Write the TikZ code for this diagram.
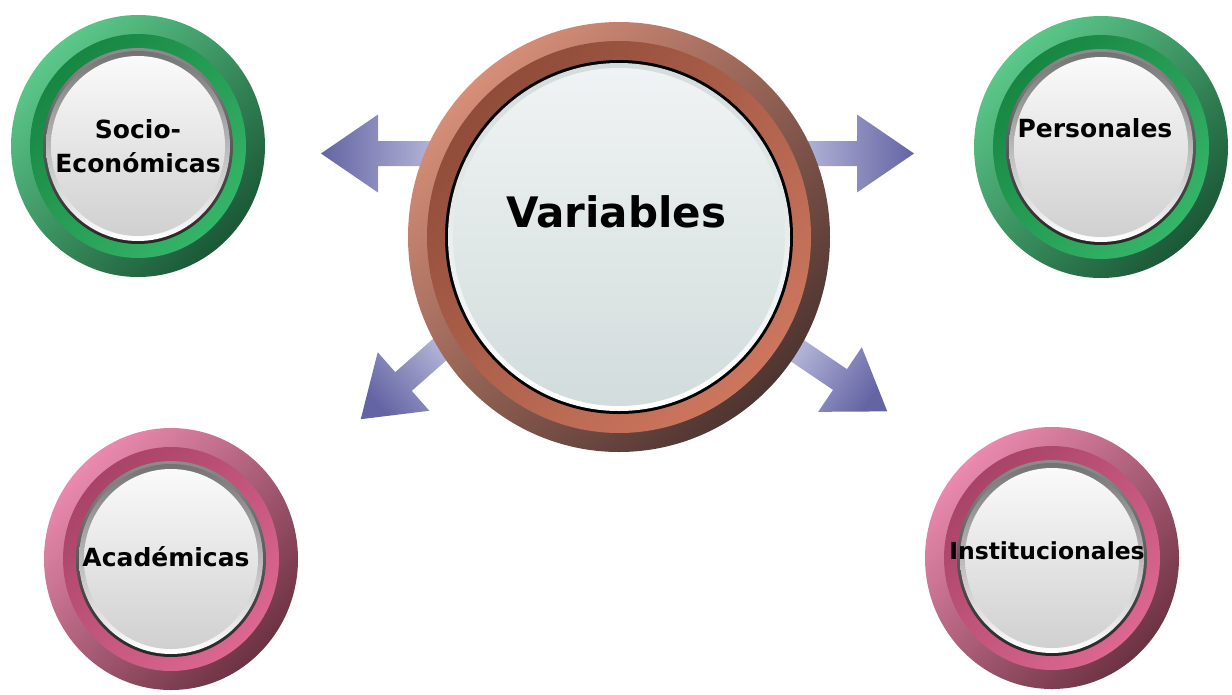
\documentclass[tikz,border=0pt]{standalone}
\usepackage{fontspec}
\setmainfont{DejaVu Sans}
\usetikzlibrary{positioning}
\definecolor{arrowdark}{RGB}{100,100,164}
\definecolor{arrowlight}{RGB}{196,198,226}
\definecolor{brownlight}{RGB}{214,142,120}
\definecolor{brownmain}{RGB}{200,106,80}
\definecolor{browndark}{RGB}{78,52,48}
\definecolor{greenlight}{RGB}{92,200,138}
\definecolor{greenmain}{RGB}{30,172,86}
\definecolor{greendark}{RGB}{26,88,54}
\definecolor{pinklight}{RGB}{234,138,174}
\definecolor{pinkmain}{RGB}{216,86,132}
\definecolor{pinkdark}{RGB}{108,50,66}
\definecolor{disclight}{RGB}{250,250,250}
\definecolor{discdark}{RGB}{208,208,208}
\definecolor{bigdisclight}{RGB}{240,243,243}
\definecolor{bigdiscdark}{RGB}{210,220,220}
\tikzset{arrowbody/.style={bottom color=arrowlight,top color=arrowdark,shading angle=#1}}
\tikzset{disc/.style={top color=disclight,bottom color=discdark}}
\tikzset{bevel/.style={top color=black!55,bottom color=white}}
\tikzset{rim/.style={top color=black!45,bottom color=black!85}}
\tikzset{lbl/.style={font=\bfseries\fontsize{25}{34}\selectfont,align=center,inner sep=0pt}}
\tikzset{biglbl/.style={font=\bfseries\fontsize{42}{48}\selectfont,inner sep=0pt}}
\newcommand{\vbutton}[4]{%
  \shade[top color=#2,bottom color=#4,shading angle=45] (#1) ellipse [x radius=127,y radius=131];
  \shade[top color=#3!78!black,bottom color=#3!90!white,shading angle=45] (#1) ellipse [x radius=108,y radius=112];
  \shade[rim] (#1) ellipse [x radius=95,y radius=98];
  \shade[bevel] (#1) ellipse [x radius=92,y radius=95];
  \shade[disc] (#1) ellipse [x radius=87,y radius=90];
}
\begin{document}
\begin{tikzpicture}[x=1pt,y=1pt]
  \useasboundingbox (0,0) rectangle (1232,-694);
  \coordinate (c-var) at (619,-237);
  \coordinate (c-socio) at (138,-146);
  \coordinate (c-pers) at (1101,-147);
  \coordinate (c-acad) at (171,-559);
  \coordinate (c-inst) at (1052,-558);

  % Arrows
  \foreach \bx/\by/\ang in {378/-153.5/180, 857/-153.5/0, 403.5/-381.5/221.4, 840/-379.5/-34}
  {
    \begin{scope}[shift={(\bx,\by)},rotate=\ang]
      \shade[arrowbody=\ang-90] (-80,-12.5) -- (0,-12.5) -- (0,-39) -- (57,0) -- (0,39) -- (0,12.5) -- (-80,12.5) -- cycle;
    \end{scope}
  }

  % Centre
  \shade[top color=brownlight,bottom color=browndark,shading angle=45] (c-var) ellipse [x radius=211,y radius=215];
  \shade[top color=brownmain!72!black,bottom color=brownmain!92!white,shading angle=45] (c-var) ellipse [x radius=192,y radius=196];
  \fill[black] (c-var) ellipse [x radius=174,y radius=177];
  \shade[top color=bigdiscdark,bottom color=white] (c-var) ellipse [x radius=171,y radius=174];
  \shade[top color=bigdisclight,bottom color=bigdiscdark] (c-var) ellipse [x radius=166,y radius=169];

  % Buttons
  \vbutton{c-socio}{greenlight}{greenmain}{greendark}
  \vbutton{c-pers}{greenlight}{greenmain}{greendark}
  \vbutton{c-acad}{pinklight}{pinkmain}{pinkdark}
  \vbutton{c-inst}{pinklight}{pinkmain}{pinkdark}

  % Labels
  \node[biglbl,anchor=base] (vars) at (616,-227) {Variables};
  \node[lbl] (socio) at (138,-146) {Socio-\\Económicas};
  \node[lbl,anchor=base] (pers) at (1095,-137) {Personales};
  \node[lbl,anchor=base] (acad) at (166,-566) {Académicas};
  \node[lbl,anchor=base,font=\bfseries\fontsize{23.5}{30}\selectfont] (inst) at (1047,-559) {Institucionales};
\end{tikzpicture}
\end{document}
